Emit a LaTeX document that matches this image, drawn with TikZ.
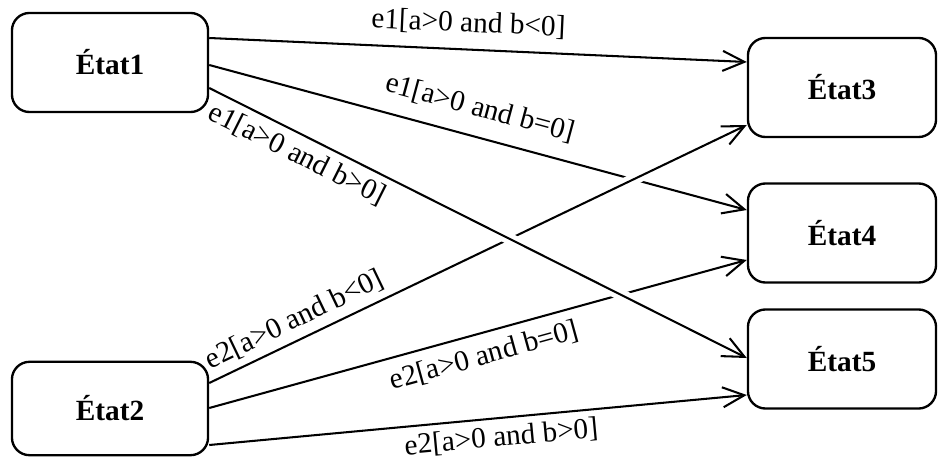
\documentclass[tikz,border=0pt]{standalone}
\usepackage{fontspec}
\setmainfont{Liberation Serif}
\usepackage{tikz}
\usetikzlibrary{arrows.meta, calc}

\begin{document}
\begin{tikzpicture}[
  x=0.012cm, y=-0.012cm,
  etat/.style={rectangle, draw, line width=0.8pt, rounded corners=6pt,
               minimum width=2.352cm, minimum height=1.188cm, font=\bfseries},
  trans/.style={-{Straight Barb[length=2.6mm, width=2.4mm]}, line width=0.7pt},
  gap/.style={draw=white, line width=4pt, shorten <=30pt, shorten >=30pt},
  lbl/.style={sloped, font=\normalsize}
]
\useasboundingbox (0,0) rectangle (938,458);

% Left column — sources
\node[etat] at (110,62.5)  (etat1) {État1};
\node[etat, minimum height=1.12cm] at (110,408.5) (etat2) {État2};

% Right column — targets
\node[etat, minimum width=2.256cm] at (842,87.5)  (etat3) {État3};
\node[etat, minimum width=2.256cm] at (842,233)   (etat4) {État4};
\node[etat, minimum width=2.256cm] at (842,359)   (etat5) {État5};

% End points on the borders
\coordinate (e1a) at ($(etat1.east)+(0,-24.5)$);
\coordinate (e1b) at ($(etat1.east)+(0,2.5)$);
\coordinate (e1c) at ($(etat1.east)+(0,25.5)$);
\coordinate (e2a) at ($(etat2.east)+(0,-25.5)$);
\coordinate (e2b) at ($(etat2.east)+(0,-0.5)$);
\coordinate (e2c) at ($(etat2.east)+(0,36.5)$);
\coordinate (t3a) at ($(etat3.west)+(0,-25.5)$);
\coordinate (t3b) at ($(etat3.west)+(0,37.5)$);
\coordinate (t4a) at ($(etat4.west)+(0,-23)$);
\coordinate (t4b) at ($(etat4.west)+(0,27)$);
\coordinate (t5a) at ($(etat5.west)+(0,-1)$);
\coordinate (t5b) at ($(etat5.west)+(0,36)$);

% Transitions (under ones first)
\draw[trans] (e1a) -- (t3a)
  node[lbl, pos=0.48, above=1pt] {e1[a>0 and b<0]};
\draw[trans] (e1b) -- (t4a)
  node[lbl, pos=0.49, above=2pt] {e1[a>0 and b=0]};
\draw[trans] (e2b) -- (t4b)
  node[lbl, pos=0.5, below] {e2[a>0 and b=0]};
\draw[trans] (e2c) -- (t5b)
  node[lbl, pos=0.54, below=-1pt] {e2[a>0 and b>0]};

% Crossing ones, with a small gap in the line below
\path[gap] (e2a) -- (t3b);
\draw[trans] (e2a) -- (t3b)
  node[lbl, pos=0.175, above=-1pt] {e2[a>0 and b<0]};
\path[gap] (e1c) -- (t5a);
\draw[trans] (e1c) -- (t5a)
  node[lbl, pos=0.18, below=-1pt] {e1[a>0 and b>0]};
\end{tikzpicture}
\end{document}
